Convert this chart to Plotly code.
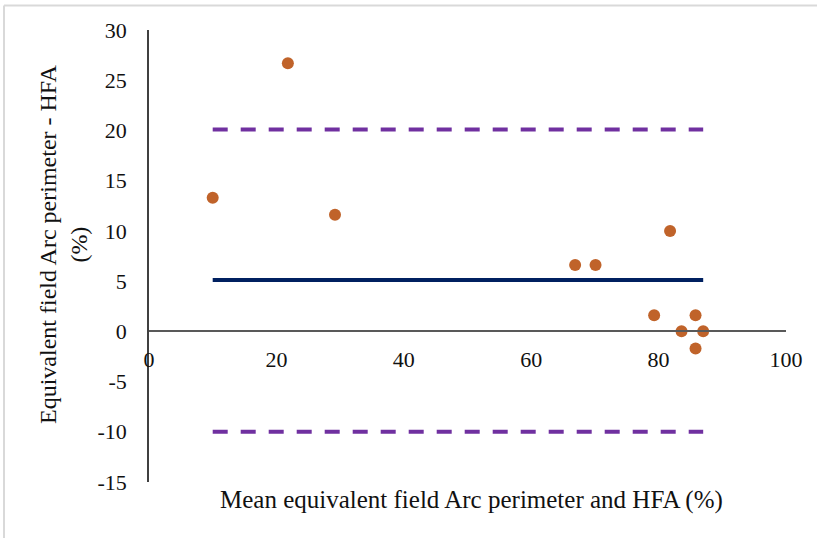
import plotly.graph_objects as go

# Bland-Altman style comparison: Arc perimeter vs HFA equivalent field
mean_field = [10.0, 21.8, 29.2, 66.9, 70.1, 81.8, 79.3, 83.6, 85.8, 85.8, 87.0]
diff_field = [13.3, 26.7, 11.6, 6.6, 6.6, 10.0, 1.6, 0.0, 1.6, -1.7, 0.0]

bias = 5.1
upper_loa = 20.1
lower_loa = -10.0

x_ticks = [0, 20, 40, 60, 80, 100]
y_ticks = [-15, -10, -5, 0, 5, 10, 15, 20, 25, 30]

FONT = "Liberation Serif"
TICK_FONT = dict(family=FONT, size=22, color="#111111")
line_x = [min(mean_field), max(mean_field)]

fig = go.Figure()

# limits of agreement (dashed purple)
for lvl in (upper_loa, lower_loa):
    fig.add_trace(go.Scatter(
        x=line_x, y=[lvl, lvl], mode="lines",
        line=dict(color="#7030A0", width=4, dash="15px,13px"),
        hoverinfo="skip", showlegend=False))

# mean difference (solid navy)
fig.add_trace(go.Scatter(
    x=line_x, y=[bias, bias], mode="lines",
    line=dict(color="#002060", width=4),
    hoverinfo="skip", showlegend=False))

# individual differences
fig.add_trace(go.Scatter(
    x=mean_field, y=diff_field, mode="markers",
    marker=dict(color="#C0632A", size=12, line=dict(width=0)),
    showlegend=False))

fig.update_layout(
    width=817, height=538,
    margin=dict(l=149, r=31, t=30, b=56),
    paper_bgcolor="white", plot_bgcolor="white",
    font=dict(family=FONT, size=22, color="#111111"),
    xaxis=dict(
        range=[0, 100], tickvals=x_ticks, ticktext=[str(v) for v in x_ticks],
        tickfont=TICK_FONT,
        showgrid=False, zeroline=False,
        showline=True, linecolor="#595959", linewidth=1.5,
        anchor="free", position=1/3,
        ticks="", ticklabelstandoff=9,
    ),
    yaxis=dict(
        range=[-15, 30], tickvals=y_ticks, ticktext=[str(v) for v in y_ticks],
        tickfont=TICK_FONT,
        showgrid=False, zeroline=False,
        showline=True, linecolor="#404040", linewidth=1.5,
        ticks="", ticklabelstandoff=16,
    ),
    annotations=[
        dict(text="Mean equivalent field Arc perimeter and HFA (%)",
             xref="paper", yref="paper",
             x=(471 - 149) / 637, y=(482 - 500) / 452,
             xanchor="center", yanchor="middle", showarrow=False,
             font=dict(family=FONT, size=25, color="#111111")),
        dict(text="Equivalent field Arc perimeter - HFA<br>(%)",
             xref="paper", yref="paper",
             x=(63 - 149) / 637, y=(482 - 245) / 452,
             xanchor="center", yanchor="middle", textangle=-90, showarrow=False,
             font=dict(family=FONT, size=24, color="#111111")),
    ],
    shapes=[
        dict(type="line", xref="paper", yref="paper",
             x0=(4 - 149) / 637, x1=(817 - 149) / 637,
             y0=(482 - 5.5) / 452, y1=(482 - 5.5) / 452,
             line=dict(color="#D9D9D9", width=2)),
        dict(type="line", xref="paper", yref="paper",
             x0=(4 - 149) / 637, x1=(4 - 149) / 637,
             y0=(482 - 5.5) / 452, y1=(482 - 538) / 452,
             line=dict(color="#D9D9D9", width=2)),
    ],
)

fig.write_html("out.html")
